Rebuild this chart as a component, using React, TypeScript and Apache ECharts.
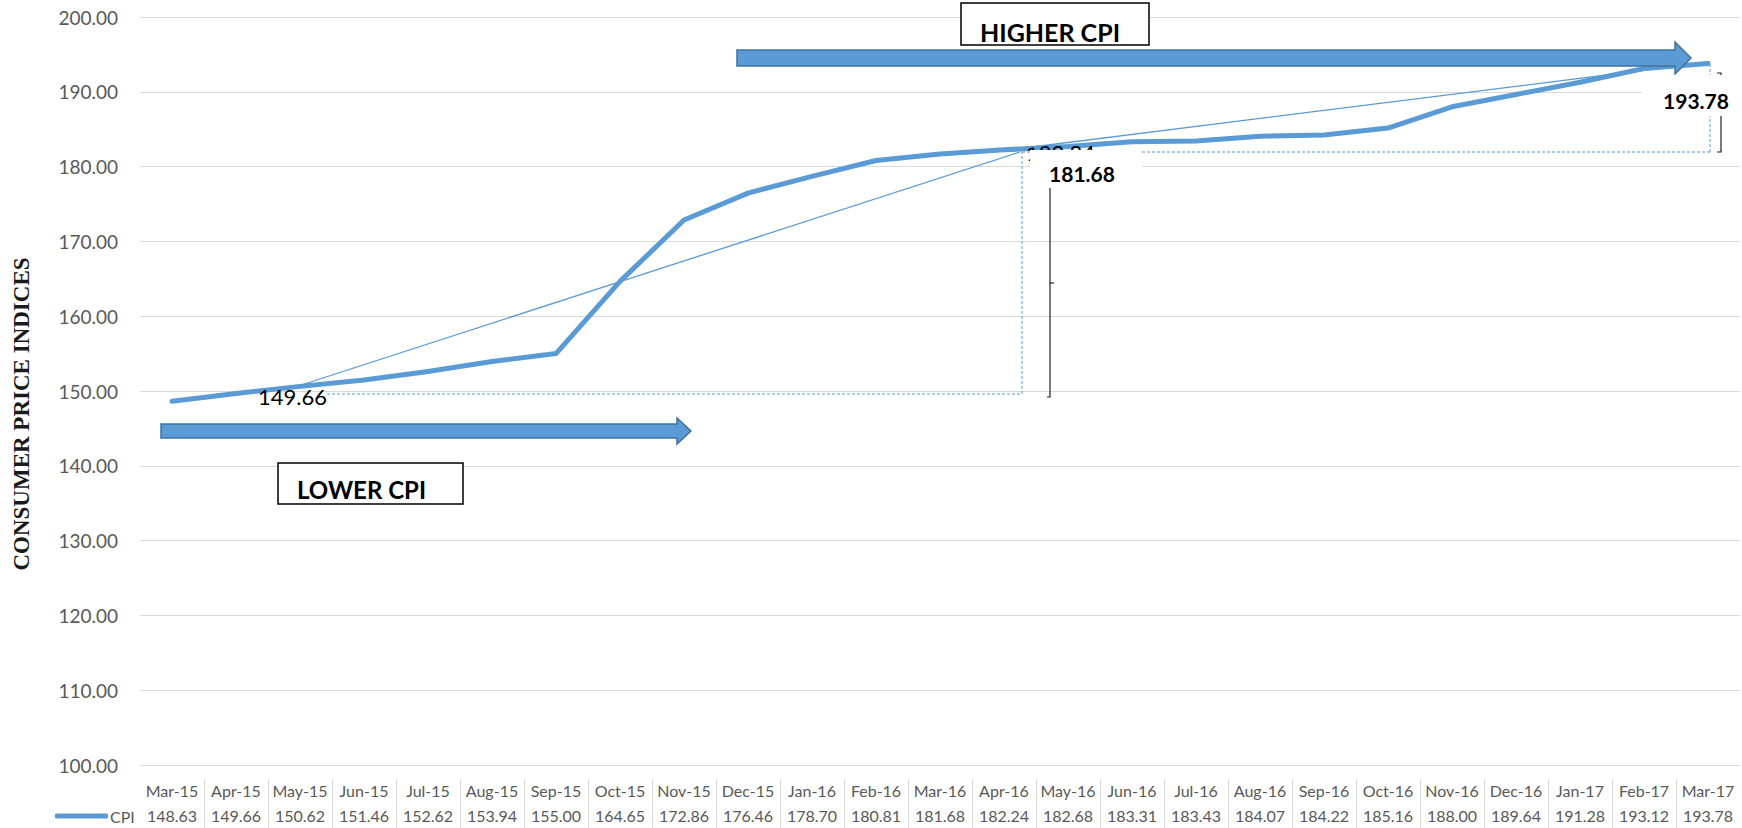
import { useEffect, useRef } from 'react';
import * as echarts from 'echarts';

const months = [
  'Mar-15', 'Apr-15', 'May-15', 'Jun-15', 'Jul-15', 'Aug-15', 'Sep-15', 'Oct-15', 'Nov-15',
  'Dec-15', 'Jan-16', 'Feb-16', 'Mar-16', 'Apr-16', 'May-16', 'Jun-16', 'Jul-16', 'Aug-16',
  'Sep-16', 'Oct-16', 'Nov-16', 'Dec-16', 'Jan-17', 'Feb-17', 'Mar-17',
];
const cpi = [
  148.63, 149.66, 150.62, 151.46, 152.62, 153.94, 155.0, 164.65, 172.86,
  176.46, 178.7, 180.81, 181.68, 182.24, 182.68, 183.31, 183.43, 184.07,
  184.22, 185.16, 188.0, 189.64, 191.28, 193.12, 193.78,
];
const labeledMonths = ['Apr-15', 'Apr-16'];
const yMin = 100;
const yMax = 200;
const yStep = 10;
const seriesName = 'CPI';
const axisTitle = 'CONSUMER PRICE INDICES';
const calloutTexts = ['181.68', '193.78'];
const zoneTexts = ['HIGHER CPI', 'LOWER CPI'];

const BLUE = '#5b9bd5';
const BLUE_DARK = '#41719c';
const GRID = '#d9d9d9';
const TXT = '#595959';
const SANS = "Lato, 'Noto Sans', sans-serif";

export default function App() {
  const ref = useRef<HTMLDivElement>(null);

  useEffect(() => {
    if (!ref.current) return;
    const chart = echarts.init(ref.current, undefined, { renderer: 'svg' });

    const data = cpi.map((v, i) =>
      labeledMonths.includes(months[i])
        ? {
            value: v,
            label: {
              show: true,
              position: 'right',
              distance: 20,
              offset: [0, 3],
              fontSize: 22,
              fontFamily: SANS,
              color: '#000',
              formatter: (p: any) => Number(p.value).toFixed(2),
            },
          }
        : v
    );

    const dash = { stroke: BLUE, lineWidth: 1, lineDash: [3, 2] };
    const thin = { stroke: BLUE, lineWidth: 1.3 };
    const blk = { stroke: '#222', lineWidth: 1.2, fill: 'none' };

    const arrow = (x0: number, x1: number, yc: number, half: number, headHalf: number, headLen: number) => ({
      type: 'polygon',
      z: 100,
      shape: {
        points: [
          [x0, yc - half], [x1 - headLen, yc - half], [x1 - headLen, yc - headHalf], [x1, yc],
          [x1 - headLen, yc + headHalf], [x1 - headLen, yc + half], [x0, yc + half],
        ],
      },
      style: { fill: BLUE, stroke: BLUE_DARK, lineWidth: 1.5 },
    });

    const graphics: any[] = [
      {
        type: 'text', z: 100, x: 21, y: 414, rotation: Math.PI / 2,
        style: {
          text: axisTitle, fontFamily: "'Liberation Serif', 'DejaVu Serif', serif", fontWeight: 'bold',
          fontSize: 23, fill: '#1a1a1a', align: 'center', verticalAlign: 'middle',
        },
      },
      { type: 'line', z: 100, shape: { x1: 292, y1: 388, x2: 1020, y2: 152 }, style: thin },
      { type: 'line', z: 100, shape: { x1: 1024, y1: 148, x2: 1710, y2: 62 }, style: thin },
      { type: 'line', z: 100, shape: { x1: 327, y1: 394, x2: 1022, y2: 394 }, style: dash },
      { type: 'line', z: 100, shape: { x1: 1022, y1: 394, x2: 1022, y2: 152 }, style: dash },
      { type: 'line', z: 100, shape: { x1: 1022, y1: 152, x2: 1710, y2: 152 }, style: dash },
      { type: 'line', z: 100, shape: { x1: 1710, y1: 152, x2: 1710, y2: 63 }, style: dash },
      { type: 'polyline', z: 100, shape: { points: [[1047, 397], [1050, 397], [1050, 188]] }, style: blk },
      { type: 'line', z: 100, shape: { x1: 1050, y1: 283, x2: 1054, y2: 283 }, style: blk },
      { type: 'polyline', z: 100, shape: { points: [[1717, 152], [1721, 152], [1721, 73], [1717, 73]] }, style: blk },
      arrow(737, 1691, 58, 8, 16, 16),
      arrow(161, 691, 431, 7, 13, 14),
      { type: 'rect', z: 101, shape: { x: 1030, y: 150, width: 112, height: 36 }, style: { fill: '#fff' } },
      {
        type: 'text', z: 102, x: 1082, y: 173,
        style: { text: calloutTexts[0], fontFamily: SANS, fontWeight: 'bold', fontSize: 21, fill: '#000', align: 'center', verticalAlign: 'middle' },
      },
      { type: 'rect', z: 101, shape: { x: 1642, y: 75, width: 100, height: 41 }, style: { fill: '#fff' } },
      {
        type: 'text', z: 102, x: 1696, y: 100,
        style: { text: calloutTexts[1], fontFamily: SANS, fontWeight: 'bold', fontSize: 21, fill: '#000', align: 'center', verticalAlign: 'middle' },
      },
      { type: 'rect', z: 101, shape: { x: 961, y: 3, width: 188, height: 42 }, style: { fill: '#fff', stroke: '#000', lineWidth: 1.5 } },
      {
        type: 'text', z: 102, x: 980, y: 32,
        style: { text: zoneTexts[0], fontFamily: SANS, fontWeight: 'bold', fontSize: 25, fill: '#000', align: 'left', verticalAlign: 'middle' },
      },
      { type: 'rect', z: 101, shape: { x: 278, y: 463, width: 185, height: 41 }, style: { fill: '#fff', stroke: '#000', lineWidth: 1.5 } },
      {
        type: 'text', z: 102, x: 297, y: 489,
        style: { text: zoneTexts[1], fontFamily: SANS, fontWeight: 'bold', fontSize: 24, fill: '#000', align: 'left', verticalAlign: 'middle' },
      },
    ];

    chart.setOption({
      animation: false,
      backgroundColor: '#fff',
      grid: [
        { left: 140, right: 2, top: 17, bottom: 63, containLabel: false, outerBoundsMode: 'none' },
        { left: 140, right: 2, top: 779, height: 49, containLabel: false, outerBoundsMode: 'none' },
      ],
      legend: {
        data: [seriesName],
        left: 55,
        top: 808,
        padding: 0,
        icon: 'roundRect',
        itemWidth: 53,
        itemHeight: 5,
        textStyle: { color: TXT, fontSize: 16, fontFamily: SANS, padding: [0, 0, 0, -3] },
      },
      xAxis: [
        {
          type: 'category',
          data: months,
          gridIndex: 0,
          boundaryGap: true,
          axisLine: { show: false },
          axisTick: { show: false },
          splitLine: { show: false },
          axisLabel: {
            interval: 0,
            margin: 13,
            formatter: (value: string, index: number) => `{c|${value}}\n{v|${cpi[index].toFixed(2)}}`,
            rich: {
              c: { fontSize: 16, fontFamily: SANS, color: TXT, lineHeight: 25, align: 'center' },
              v: { fontSize: 16, fontFamily: SANS, color: TXT, lineHeight: 25, align: 'center' },
            },
          },
        },
        {
          type: 'category',
          data: months,
          gridIndex: 1,
          boundaryGap: true,
          axisLine: { show: false },
          axisTick: { show: false },
          axisLabel: { show: false },
          splitLine: { show: true, showMinLine: false, showMaxLine: false, lineStyle: { color: GRID, width: 1 } },
        },
      ],
      yAxis: [
        {
          type: 'value',
          gridIndex: 0,
          min: yMin,
          max: yMax,
          interval: yStep,
          axisLine: { show: false },
          axisTick: { show: false },
          axisLabel: {
            margin: 22,
            color: TXT,
            fontSize: 19,
            fontFamily: SANS,
            formatter: (v: number) => v.toFixed(2),
          },
          splitLine: { show: true, lineStyle: { color: GRID, width: 1.2 } },
        },
        { type: 'value', gridIndex: 1, show: false, splitLine: { show: false } },
      ],
      series: [
        {
          name: seriesName,
          type: 'line',
          xAxisIndex: 0,
          yAxisIndex: 0,
          data,
          symbol: 'circle',
          symbolSize: 4,
          showSymbol: true,
          itemStyle: { color: BLUE },
          lineStyle: { color: BLUE, width: 5, cap: 'round', join: 'round' },
          z: 2,
        },
      ],
      graphic: { elements: graphics },
    });

    return () => chart.dispose();
  }, []);

  return (
    <div
      ref={ref}
      style={{ position: 'fixed', left: 0, top: 0, width: 1742, height: 828, background: '#fff' }}
    />
  );
}
